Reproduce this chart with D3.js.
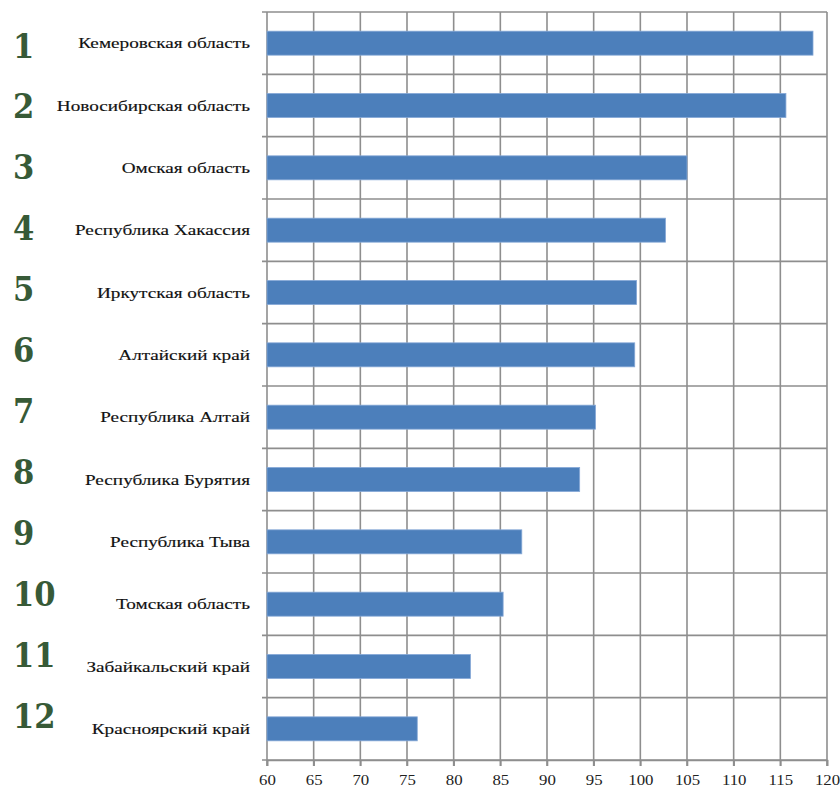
<!DOCTYPE html>
<html><head><meta charset="utf-8">
<script src="https://cdn.jsdelivr.net/npm/d3@7"></script>
<style>body{margin:0;background:#fff}svg{display:block}</style>
</head><body>
<svg id="c" width="840" height="791"></svg>
<script>
const regions = ["Кемеровская область","Новосибирская область","Омская область","Республика Хакассия","Иркутская область","Алтайский край","Республика Алтай","Республика Бурятия","Республика Тыва","Томская область","Забайкальский край","Красноярский край"];
const values = [118.5,115.6,105.0,102.7,99.6,99.4,95.2,93.5,87.3,85.3,81.8,76.1];
const ranks = ["1","2","3","4","5","6","7","8","9","10","11","12"];
const xTicks = [60,65,70,75,80,85,90,95,100,105,110,115,120];

const svg = d3.select("#c");
const L = 267, R = 827, T = 12, B = 760;
const x = d3.scaleLinear().domain([60,120]).range([L,R]);
const y = d3.scaleBand().domain(regions).range([T,B]).paddingInner(0.615).paddingOuter(0.3075);
const step = y.step();
const gridColor = "#8e8e8e";

// vertical gridlines
svg.append("g").selectAll("line").data(xTicks).join("line")
  .attr("x1",d=>x(d)).attr("x2",d=>x(d)).attr("y1",T).attr("y2",B+6)
  .attr("stroke",gridColor).attr("stroke-width",1.6);
// horizontal gridlines at band boundaries
const bounds = d3.range(regions.length+1).map(i=>T+i*step);
svg.append("g").selectAll("line").data(bounds).join("line")
  .attr("x1",L-5).attr("x2",R).attr("y1",d=>d).attr("y2",d=>d)
  .attr("stroke",gridColor).attr("stroke-width",1.6);

// bars
svg.append("g").selectAll("rect").data(regions).join("rect")
  .attr("x",x(60)).attr("y",d=>y(d))
  .attr("width",(d,i)=>x(values[i])-x(60)).attr("height",y.bandwidth())
  .attr("fill","#4c7fbb").attr("stroke","#86a8d6").attr("stroke-width",0.8);

// x axis
const xa = svg.append("g").attr("transform",`translate(0,${B})`)
  .call(d3.axisBottom(x).tickValues(xTicks).tickSize(6).tickPadding(8).tickFormat(d3.format("d")));
xa.select(".domain").attr("stroke",gridColor).attr("stroke-width",1.6);
xa.selectAll(".tick line").attr("stroke",gridColor).attr("stroke-width",1.6);
xa.selectAll("text").attr("font-family","'Liberation Serif', serif").attr("font-size",15).attr("fill","#222")
  .attr("transform","scale(1.12,1)");

// category labels
svg.append("g").selectAll("text").data(regions).join("text")
  .attr("transform",d=>`translate(250,${y(d)+y.bandwidth()/2}) scale(1.28,1)`)
  .attr("text-anchor","end").attr("dy","0.35em")
  .attr("font-family","'Liberation Serif', serif").attr("font-size",15).attr("fill","#111")
  .attr("stroke","#111").attr("stroke-width",0.15)
  .text(d=>d);

// rank numbers
const rk = d3.scalePoint().domain(ranks).range([46,716]);
svg.append("g").selectAll("text").data(ranks).join("text")
  .attr("transform",d=>`translate(13,${rk(d)}) scale(1.02,1.1)`)
  .attr("dy","0.35em")
  .attr("font-family","'DejaVu Serif', serif").attr("font-weight","bold").attr("font-size",30)
  .attr("fill","#375a37")
  .text(d=>d);
</script>
</body></html>
